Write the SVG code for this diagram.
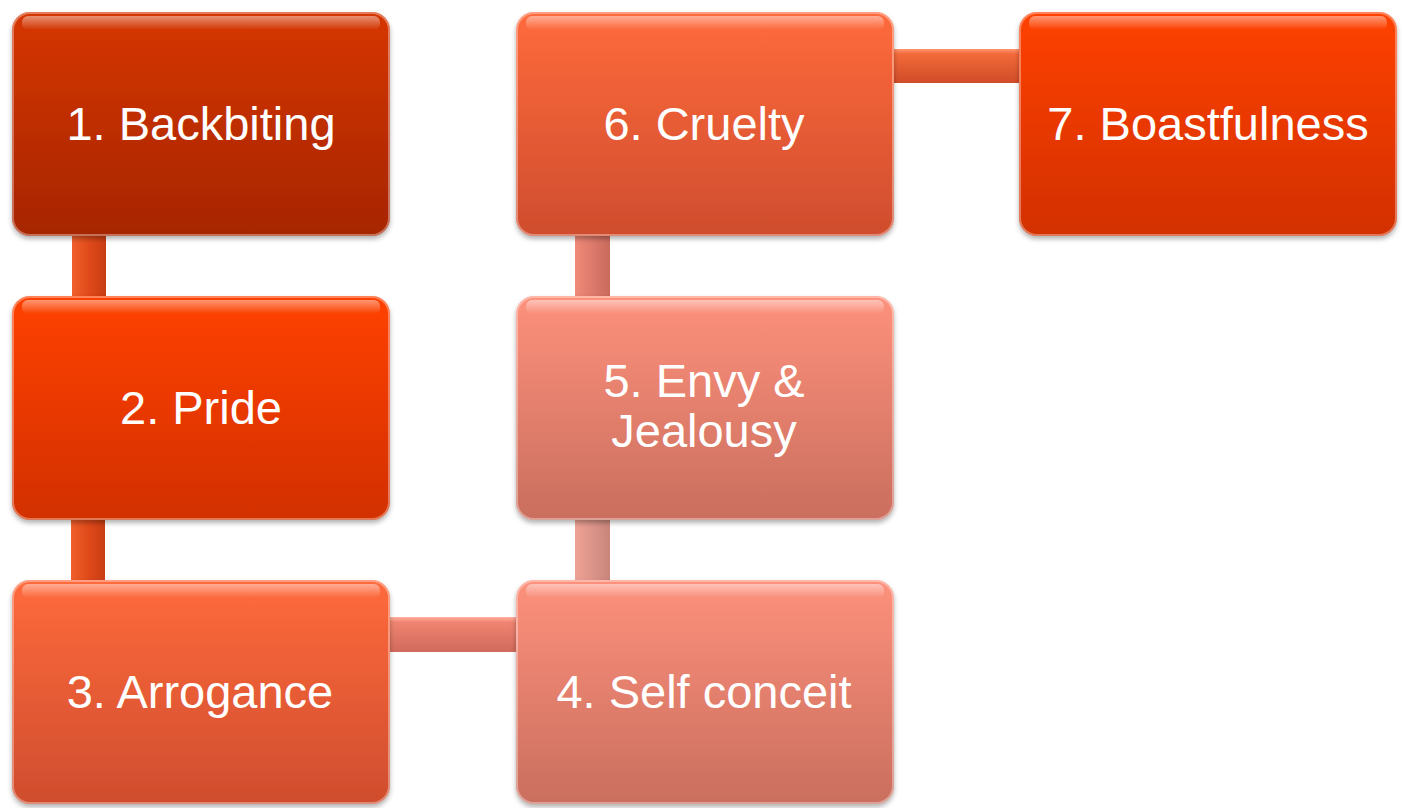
<svg xmlns="http://www.w3.org/2000/svg" width="1402" height="808" viewBox="0 0 1402 808">
<defs>
<linearGradient id="g1" x1="0" y1="0" x2="0" y2="1"><stop offset="0" stop-color="#d63602"/><stop offset="1" stop-color="#a62500"/></linearGradient>
<linearGradient id="g2" x1="0" y1="0" x2="0" y2="1"><stop offset="0" stop-color="#ff4100"/><stop offset="1" stop-color="#d23000"/></linearGradient>
<linearGradient id="g3" x1="0" y1="0" x2="0" y2="1"><stop offset="0" stop-color="#ff6a3c"/><stop offset="1" stop-color="#cf4d2e"/></linearGradient>
<linearGradient id="g4" x1="0" y1="0" x2="0" y2="1"><stop offset="0" stop-color="#fd917c"/><stop offset="1" stop-color="#ca6e5e"/></linearGradient>
<linearGradient id="cv1" x1="0" y1="0" x2="1" y2="0"><stop offset="0" stop-color="#f0602c"/><stop offset="0.5" stop-color="#e04a1a"/><stop offset="1" stop-color="#c83c12"/></linearGradient>
<linearGradient id="cv2" x1="0" y1="0" x2="1" y2="0"><stop offset="0" stop-color="#f08a78"/><stop offset="0.5" stop-color="#dc7a6c"/><stop offset="1" stop-color="#c86a5c"/></linearGradient>
<linearGradient id="cv3" x1="0" y1="0" x2="1" y2="0"><stop offset="0" stop-color="#eea294"/><stop offset="0.5" stop-color="#dc948a"/><stop offset="1" stop-color="#c9857a"/></linearGradient>
<linearGradient id="ch1" x1="0" y1="0" x2="0" y2="1"><stop offset="0" stop-color="#ff9470"/><stop offset="0.15" stop-color="#f26a3a"/><stop offset="1" stop-color="#d04c28"/></linearGradient>
<linearGradient id="ch2" x1="0" y1="0" x2="0" y2="1"><stop offset="0" stop-color="#ffb0a0"/><stop offset="0.15" stop-color="#f08470"/><stop offset="1" stop-color="#d06a5c"/></linearGradient>
<linearGradient id="hl" x1="0" y1="0" x2="0" y2="1"><stop offset="0" stop-color="#ffffff" stop-opacity="0.45"/><stop offset="1" stop-color="#ffffff" stop-opacity="0"/></linearGradient>
<filter id="sh" x="-5%" y="-5%" width="110%" height="115%"><feDropShadow dx="0" dy="3" stdDeviation="2.5" flood-color="#000" flood-opacity="0.3"/></filter>
</defs>
<style>
.box{filter:url(#sh);}
.gloss{fill:url(#hl);}
.edge{fill:none;stroke:#ffffff;stroke-opacity:0.35;stroke-width:2;}
.lbl{font-family:"Liberation Sans",Arial,sans-serif;font-size:47px;fill:#ffffff;text-anchor:middle;}
</style>
<g id="connectors">
<rect x="72" y="230" width="34" height="72" fill="url(#cv1)"/>
<rect x="71" y="514" width="34" height="72" fill="url(#cv1)"/>
<rect x="383" y="617" width="140" height="35" fill="url(#ch2)"/>
<rect x="575" y="514" width="35" height="72" fill="url(#cv3)"/>
<rect x="575" y="230" width="35" height="72" fill="url(#cv2)"/>
<rect x="887" y="49" width="138" height="34" fill="url(#ch1)"/>
</g>
<g id="node1"><rect class="box" x="12" y="12" width="378" height="224" rx="18" fill="url(#g1)"/><rect class="gloss" x="22" y="16" width="358" height="14" rx="6"/><rect class="edge" x="13" y="13" width="376" height="222" rx="17"/><text class="lbl" x="201" y="140">1. Backbiting</text></g>
<g id="node2"><rect class="box" x="12" y="296" width="378" height="224" rx="18" fill="url(#g2)"/><rect class="gloss" x="22" y="300" width="358" height="14" rx="6"/><rect class="edge" x="13" y="297" width="376" height="222" rx="17"/><text class="lbl" x="201" y="424">2. Pride</text></g>
<g id="node3"><rect class="box" x="12" y="580" width="378" height="224" rx="18" fill="url(#g3)"/><rect class="gloss" x="22" y="584" width="358" height="14" rx="6"/><rect class="edge" x="13" y="581" width="376" height="222" rx="17"/><text class="lbl" x="200" y="708">3. Arrogance</text></g>
<g id="node4"><rect class="box" x="516" y="580" width="378" height="224" rx="18" fill="url(#g4)"/><rect class="gloss" x="526" y="584" width="358" height="14" rx="6"/><rect class="edge" x="517" y="581" width="376" height="222" rx="17"/><text class="lbl" x="704" y="708">4. Self conceit</text></g>
<g id="node5"><rect class="box" x="516" y="296" width="378" height="224" rx="18" fill="url(#g4)"/><rect class="gloss" x="526" y="300" width="358" height="14" rx="6"/><rect class="edge" x="517" y="297" width="376" height="222" rx="17"/><text class="lbl" x="704" y="397">5. Envy &amp;</text><text class="lbl" x="704" y="447">Jealousy</text></g>
<g id="node6"><rect class="box" x="516" y="12" width="378" height="224" rx="18" fill="url(#g3)"/><rect class="gloss" x="526" y="16" width="358" height="14" rx="6"/><rect class="edge" x="517" y="13" width="376" height="222" rx="17"/><text class="lbl" x="704" y="140">6. Cruelty</text></g>
<g id="node7"><rect class="box" x="1019" y="12" width="378" height="224" rx="18" fill="url(#g2)"/><rect class="gloss" x="1029" y="16" width="358" height="14" rx="6"/><rect class="edge" x="1020" y="13" width="376" height="222" rx="17"/><text class="lbl" x="1208" y="140">7. Boastfulness</text></g>
</svg>
